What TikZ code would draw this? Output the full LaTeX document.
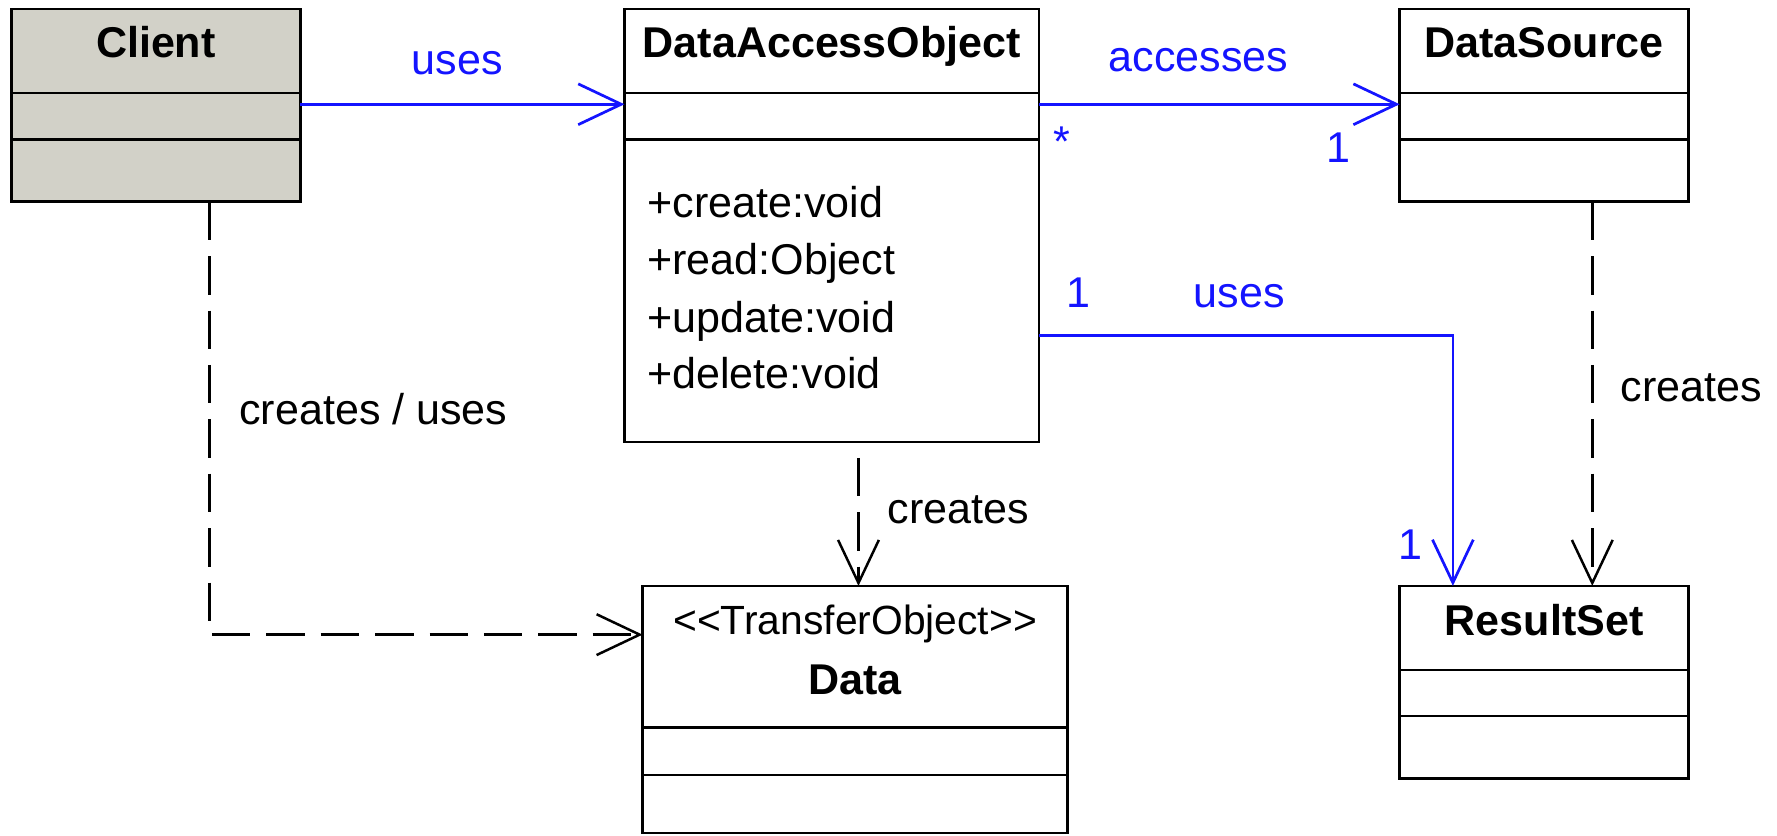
\documentclass[tikz,border=0pt]{standalone}
\usepackage{fontspec}
\setmainfont{Liberation Sans}
\usetikzlibrary{arrows.meta,calc}
\definecolor{umlblue}{RGB}{20,20,255}
\definecolor{clientgray}{RGB}{210,209,200}
\begin{document}
\begin{tikzpicture}[x=1pt,y=-1pt,
  cls/.style={draw=black, line width=2.2pt, rectangle, inner sep=0pt, outer sep=0pt, anchor=north west, fill=white},
  ttl/.style={font=\fontsize{38}{40}\selectfont\bfseries, inner sep=0pt, anchor=base},
  txt/.style={font=\fontsize{38}{40}\selectfont, inner sep=0pt, anchor=base west},
  bl/.style={txt, text=umlblue},
  divl/.style={line width=2.2pt},
  assoc/.style={draw=umlblue, line width=2.4pt, -{Straight Barb[length=38pt,width=36pt]}},
  dep/.style={draw=black, line width=2.2pt, dash pattern=on 34pt off 14pt, -{Straight Barb[length=38pt,width=36pt]}}
]
\useasboundingbox (0,0) rectangle (1568,737);

% classes
\node[cls, fill=clientgray, minimum width=255pt, minimum height=170pt] (client) at (10,8) {};
\node[cls, minimum width=366pt, minimum height=382pt] (dao) at (551,8) {};
\node[cls, minimum width=255pt, minimum height=170pt] (ds) at (1235,8) {};
\node[cls, minimum width=375pt, minimum height=218pt] (data) at (567,517) {};
\node[cls, minimum width=255pt, minimum height=170pt] (rs) at (1235,517) {};

% compartments
\foreach \n in {client,dao,ds}{
  \draw[divl] ($(\n.north west)+(0,74)$) -- ($(\n.north east)+(0,74)$);
  \draw[divl] ($(\n.north west)+(0,115)$) -- ($(\n.north east)+(0,115)$);
}
\draw[divl] ($(data.north west)+(0,125)$) -- ($(data.north east)+(0,125)$);
\draw[divl] ($(data.north west)+(0,167)$) -- ($(data.north east)+(0,167)$);
\draw[divl] ($(rs.north west)+(0,74)$) -- ($(rs.north east)+(0,74)$);
\draw[divl] ($(rs.north west)+(0,115)$) -- ($(rs.north east)+(0,115)$);

% titles
\node[ttl] (tclient) at (137.5,51) {Client};
\node[ttl] (tdao) at (734,51) {DataAccessObject};
\node[ttl] (tds) at (1362.5,51) {DataSource};
\node[ttl, font=\fontsize{36}{40}\selectfont] (tstereo) at (754.5,560) {<{}<TransferObject>{}>};
\node[ttl] (tdata) at (754.5,613) {Data};
\node[ttl] (trs) at (1362.5,561) {ResultSet};

% operations
\node[txt] (op1) at (571,192) {+create:void};
\node[txt] (op2) at (571,242) {+read:Object};
\node[txt] (op3) at (571,293) {+update:void};
\node[txt] (op4) at (571,343) {+delete:void};

% connectors
\draw[assoc] ($(client.north east)+(0,84)$) -- ($(dao.north west)+(0,84)$);
\draw[assoc] ($(dao.north east)+(0,84)$) -- ($(ds.north west)+(0,84)$);
\draw[assoc] ($(dao.north east)+(0,288)$) -| ($(rs.north west)+(47,0)$);
\draw[dep] ($(ds.south west)+(170,0)$) -- ($(rs.north west)+(170,0)$);
\draw[dep, dash phase=34pt] ($(dao.south -| data.north)+(3,0)$) -- ($(data.north)+(3,0)$);
\draw[dep] ($(client.south west)+(175,0)$) |- ($(data.north west)+(0,43)$);

% labels
\node[bl] (luses1) at (363,66) {uses};
\node[bl] (lacc) at (978,63) {accesses};
\node[bl] (lstar) at (929,138) {*};
\node[bl] (lone1) at (1170,143) {1};
\node[bl] (lone2) at (941,271) {1};
\node[bl] (luses2) at (1053,271) {uses};
\node[bl] (lone3) at (1234,494) {1};
\node[txt] (lcr1) at (1430,354) {creates};
\node[txt] (lcr2) at (783,462) {creates};
\node[txt] (lcru) at (211,375) {creates / uses};
\end{tikzpicture}
\end{document}
